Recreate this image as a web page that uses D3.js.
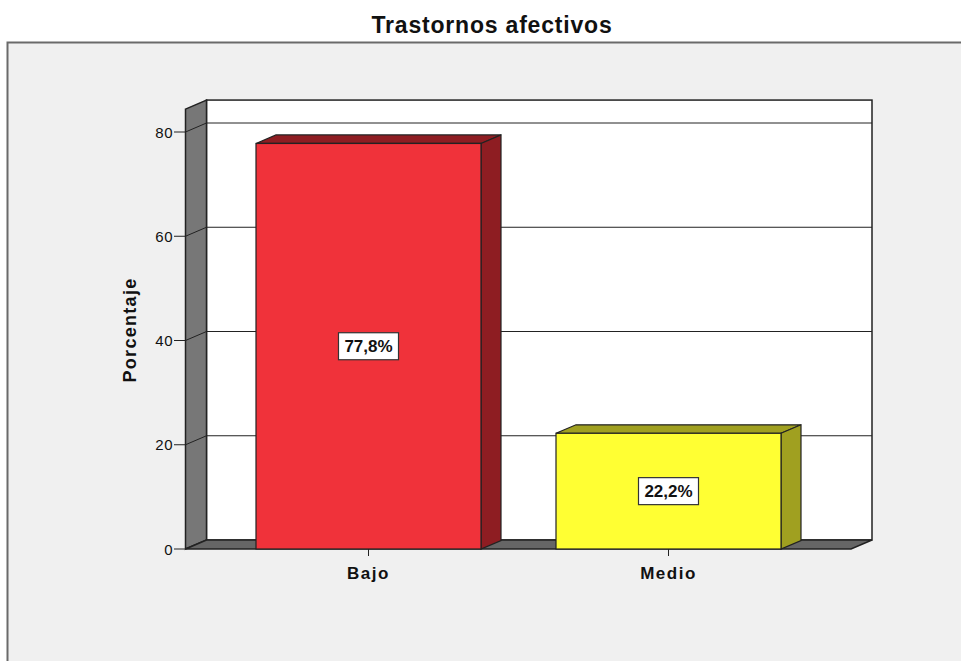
<!DOCTYPE html>
<html>
<head>
<meta charset="utf-8">
<script src="https://cdn.jsdelivr.net/npm/d3@7"></script>
<style>
  body { margin: 0; background: #fff; }
  text { font-family: "Liberation Sans", Arial, sans-serif; fill: #111; }
</style>
</head>
<body>
<script>
var width = 961;
var height = 661;

var categories = ['Bajo', 'Medio'];
var values = [77.8, 22.2];
var valueLabels = ['77,8%', '22,2%'];
var yTicks = [0, 20, 40, 60, 80];

var depthX = 21, depthY = -9;      // wall depth
var barDX = 20, barDY = -8.5;      // bar depth

var svg = d3.select('body')
    .append('svg')
    .attr('width', width)
    .attr('height', height);

// title
svg.append('text')
    .attr('x', 492)
    .attr('y', 33)
    .attr('text-anchor', 'middle')
    .style('font-size', '23px')
    .style('font-weight', 'bold')
    .style('letter-spacing', '0.8px')
    .text('Trastornos afectivos');

// grey panel
svg.append('rect')
    .attr('x', 7).attr('y', 42)
    .attr('width', width).attr('height', height)
    .attr('fill', '#f0f0f0');
svg.append('path')
    .attr('d', 'M7.5,' + height + 'V42.5H' + width)
    .attr('fill', 'none')
    .attr('stroke', '#6a6a6a')
    .attr('stroke-width', 2);

var yScale = d3.scaleLinear()
    .domain([0, 80])
    .range([549, 132]);

var xScale = d3.scaleBand()
    .domain(categories)
    .range([218.5, 818.5])
    .paddingInner(0.25)
    .paddingOuter(0.125);

var plotLeft = 185.5, plotRight = 851;
var plotTop = yScale(84.4), plotBottom = yScale(0);

// back wall
svg.append('rect')
    .attr('x', plotLeft + depthX).attr('y', plotTop + depthY)
    .attr('width', plotRight - plotLeft).attr('height', plotBottom - plotTop)
    .attr('fill', '#fff')
    .attr('stroke', '#222')
    .attr('stroke-width', 1.5);

// grid on back wall
svg.selectAll('.grid')
    .data(yTicks.slice(1))
    .enter()
    .append('line')
    .attr('x1', plotLeft + depthX).attr('x2', plotRight + depthX)
    .attr('y1', function (d) { return yScale(d) + depthY; })
    .attr('y2', function (d) { return yScale(d) + depthY; })
    .attr('stroke', '#222')
    .attr('stroke-width', 1);

// left wall
svg.append('path')
    .attr('d', 'M' + plotLeft + ',' + plotTop + 'L' + (plotLeft + depthX) + ',' + (plotTop + depthY) +
        'L' + (plotLeft + depthX) + ',' + (plotBottom + depthY) + 'L' + plotLeft + ',' + plotBottom + 'Z')
    .attr('fill', '#777')
    .attr('stroke', '#222')
    .attr('stroke-width', 1.5);

// grid lines on left wall
svg.selectAll('.wallgrid')
    .data(yTicks.slice(1))
    .enter()
    .append('line')
    .attr('x1', plotLeft).attr('x2', plotLeft + depthX)
    .attr('y1', function (d) { return yScale(d); })
    .attr('y2', function (d) { return yScale(d) + depthY; })
    .attr('stroke', '#222')
    .attr('stroke-width', 1);

// floor
svg.append('path')
    .attr('d', 'M' + plotLeft + ',' + plotBottom + 'L' + (plotLeft + depthX) + ',' + (plotBottom + depthY) +
        'L' + (plotRight + depthX) + ',' + (plotBottom + depthY) + 'L' + plotRight + ',' + plotBottom + 'Z')
    .attr('fill', '#666')
    .attr('stroke', '#222')
    .attr('stroke-width', 1.5);

// y axis ticks and labels
svg.selectAll('.ytick')
    .data(yTicks)
    .enter()
    .append('line')
    .attr('x1', 174).attr('x2', plotLeft)
    .attr('y1', function (d) { return yScale(d); })
    .attr('y2', function (d) { return yScale(d); })
    .attr('stroke', '#222');

svg.selectAll('.ylab')
    .data(yTicks)
    .enter()
    .append('text')
    .attr('x', 173)
    .attr('y', function (d) { return yScale(d) + 5.5; })
    .attr('text-anchor', 'end')
    .style('font-size', '15px')
    .style('letter-spacing', '0.5px')
    .text(function (d) { return d; });

svg.append('text')
    .attr('transform', 'translate(136,330) rotate(-90)')
    .attr('text-anchor', 'middle')
    .style('font-size', '18px')
    .style('font-weight', 'bold')
    .style('letter-spacing', '1.3px')
    .text('Porcentaje');

// bars
var front = d3.scaleOrdinal().domain(categories).range(['#f0323a', '#ffff33']);
var side = d3.scaleOrdinal().domain(categories).range(['#8e1d22', '#a0a020']);

var bars = svg.selectAll('.bar')
    .data(categories)
    .enter()
    .append('g');

bars.append('path')
    .attr('d', function (d, i) {
        var x0 = xScale(d), x1 = x0 + xScale.bandwidth(), y0 = yScale(values[i]);
        return 'M' + x0 + ',' + y0 + 'L' + (x0 + barDX) + ',' + (y0 + barDY) +
            'L' + (x1 + barDX) + ',' + (y0 + barDY) + 'L' + x1 + ',' + y0 + 'Z';
    })
    .attr('fill', side)
    .attr('stroke', '#222')
    .attr('stroke-width', 1.2);

bars.append('path')
    .attr('d', function (d, i) {
        var x1 = xScale(d) + xScale.bandwidth(), y0 = yScale(values[i]), y1 = yScale(0);
        return 'M' + x1 + ',' + y0 + 'L' + (x1 + barDX) + ',' + (y0 + barDY) +
            'L' + (x1 + barDX) + ',' + (y1 + barDY) + 'L' + x1 + ',' + y1 + 'Z';
    })
    .attr('fill', side)
    .attr('stroke', '#222')
    .attr('stroke-width', 1.2);

bars.append('rect')
    .attr('x', function (d) { return xScale(d); })
    .attr('y', function (d, i) { return yScale(values[i]); })
    .attr('width', xScale.bandwidth())
    .attr('height', function (d, i) { return yScale(0) - yScale(values[i]); })
    .attr('fill', front)
    .attr('stroke', '#222')
    .attr('stroke-width', 1.2);

// value labels
bars.append('rect')
    .attr('x', function (d) { return xScale(d) + xScale.bandwidth() / 2 - 30; })
    .attr('y', function (d, i) { return (yScale(values[i]) + yScale(0)) / 2 - 13.5; })
    .attr('width', 60)
    .attr('height', 27)
    .attr('fill', '#fff')
    .attr('stroke', '#333')
    .attr('stroke-width', 1.2);

bars.append('text')
    .attr('x', function (d) { return xScale(d) + xScale.bandwidth() / 2; })
    .attr('y', function (d, i) { return (yScale(values[i]) + yScale(0)) / 2 + 6; })
    .attr('text-anchor', 'middle')
    .style('font-size', '17px')
    .style('font-weight', 'bold')
    .text(function (d, i) { return valueLabels[i]; });

// x axis ticks and labels
bars.append('line')
    .attr('x1', function (d) { return xScale(d) + xScale.bandwidth() / 2; })
    .attr('x2', function (d) { return xScale(d) + xScale.bandwidth() / 2; })
    .attr('y1', yScale(0))
    .attr('y2', yScale(0) + 7)
    .attr('stroke', '#222');

bars.append('text')
    .attr('x', function (d) { return xScale(d) + xScale.bandwidth() / 2; })
    .attr('y', 579)
    .attr('text-anchor', 'middle')
    .style('font-size', '17px')
    .style('font-weight', 'bold')
    .style('letter-spacing', '1.5px')
    .text(function (d) { return d; });
</script>
</body>
</html>
